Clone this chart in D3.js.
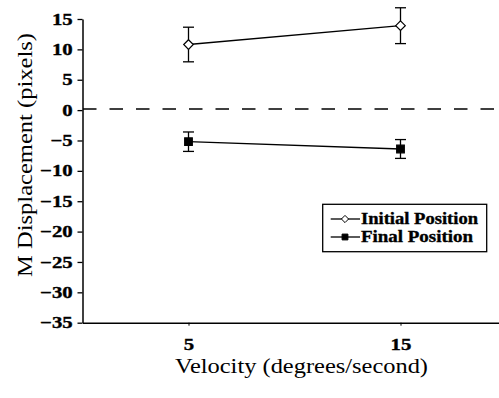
<!DOCTYPE html>
<html>
<head>
<meta charset="utf-8">
<script src="https://cdn.jsdelivr.net/npm/d3@7"></script>
<style>
  body { margin: 0; background: #fff; }
  svg { display: block; }
</style>
</head>
<body>
<div id="chart"></div>
<script>
// data
const velocities = [5, 15];
const initialMeans = [10.8, 13.9];
const initialErr = [2.85, 2.95];
const finalMeans = [-5.2, -6.4];
const finalErr = [1.6, 1.55];
const yTicks = [15, 10, 5, 0, -5, -10, -15, -20, -25, -30, -35];
const xTicks = [5, 15];

const width = 499, height = 398;
const serif = "Liberation Serif";

const svg = d3.select("#chart").append("svg")
    .attr("width", width)
    .attr("height", height);

// scales
const x = d3.scaleLinear().domain([0, 20]).range([82.5, 506.5]);
const y = d3.scaleLinear().domain([-35, 15]).range([322.7, 19]);

// open diamond like the original, a square turned on its corner
const diamond = {
    draw(ctx, size) {
        const r = Math.sqrt(size / 2);
        ctx.moveTo(0, -r);
        ctx.lineTo(r, 0);
        ctx.lineTo(0, r);
        ctx.lineTo(-r, 0);
        ctx.closePath();
    }
};

// bold serif labels, a touch heavier like the scanned print
function boldLabel(sel, size) {
    sel.style("font-family", serif)
        .style("font-size", size + "px")
        .style("font-weight", "bold")
        .attr("fill", "#000")
        .attr("stroke", "#000")
        .attr("stroke-width", 0.35);
}

// y axis
const yAxisG = svg.append("g")
    .attr("transform", "translate(82.5,0)")
    .call(d3.axisLeft(y).tickValues(yTicks).tickSize(5).tickPadding(2.5).tickSizeOuter(0));
yAxisG.select(".domain").attr("stroke", "#000").attr("stroke-width", 1.5);
yAxisG.selectAll(".tick line").attr("stroke-width", 1.3);
yAxisG.selectAll(".tick text")
    .call(boldLabel, 16)
    .attr("transform", "scale(1.3,1)");

// x axis
const xAxisG = svg.append("g")
    .attr("transform", "translate(0,322.7)")
    .call(d3.axisBottom(x).tickValues(xTicks).tickSize(3).tickPadding(12.5).tickSizeOuter(0));
xAxisG.select(".domain").attr("stroke", "#000").attr("stroke-width", 1.5);
xAxisG.selectAll(".tick line").attr("stroke-width", 1);
xAxisG.selectAll(".tick text")
    .call(boldLabel, 16)
    .attr("transform", "scale(1.3,1)");

// zero reference line
svg.append("line")
    .attr("x1", x(0) + 0.5).attr("x2", width)
    .attr("y1", y(0) - 1).attr("y2", y(0) - 1)
    .attr("stroke", "#000")
    .attr("stroke-width", 1.5)
    .attr("stroke-dasharray", "13.5,13");

// axis titles
svg.append("text")
    .attr("x", 301.5).attr("y", 373)
    .attr("text-anchor", "middle")
    .style("font-family", serif)
    .style("font-size", "20px")
    .attr("textLength", 253)
    .attr("lengthAdjust", "spacingAndGlyphs")
    .text("Velocity (degrees/second)");

svg.append("text")
    .attr("transform", "translate(32,155) rotate(-90)")
    .attr("text-anchor", "middle")
    .style("font-family", serif)
    .style("font-size", "20px")
    .attr("textLength", 244)
    .attr("lengthAdjust", "spacingAndGlyphs")
    .text("M Displacement (pixels)");

// series
const series = [
    {name: "Initial Position", means: initialMeans, err: initialErr, fill: "#fff", shape: diamond, size: 46, legendSize: 26},
    {name: "Final Position", means: finalMeans, err: finalErr, fill: "#000", shape: d3.symbolSquare, size: 58, legendSize: 34}
];

const line = d3.line()
    .x(d => x(d.v))
    .y(d => y(d.m));

series.forEach(s => {
    const pts = velocities.map((v, i) => ({v: v, m: s.means[i], e: s.err[i]}));
    const g = svg.append("g");

    // connecting line
    g.append("path")
        .datum(pts)
        .attr("d", line)
        .attr("fill", "none")
        .attr("stroke", "#000")
        .attr("stroke-width", 1.3);

    // error bars
    const eb = g.selectAll(".err").data(pts).enter().append("g");
    eb.append("line")
        .attr("x1", d => x(d.v)).attr("x2", d => x(d.v))
        .attr("y1", d => y(d.m + d.e)).attr("y2", d => y(d.m - d.e))
        .attr("stroke", "#000").attr("stroke-width", 1.3);
    eb.append("line")
        .attr("x1", d => x(d.v) - 5.5).attr("x2", d => x(d.v) + 5.5)
        .attr("y1", d => y(d.m + d.e)).attr("y2", d => y(d.m + d.e))
        .attr("stroke", "#000").attr("stroke-width", 1.3);
    eb.append("line")
        .attr("x1", d => x(d.v) - 5.5).attr("x2", d => x(d.v) + 5.5)
        .attr("y1", d => y(d.m - d.e)).attr("y2", d => y(d.m - d.e))
        .attr("stroke", "#000").attr("stroke-width", 1.3);

    // markers
    g.selectAll(".pt").data(pts).enter().append("path")
        .attr("transform", d => `translate(${x(d.v)},${y(d.m)})`)
        .attr("d", d3.symbol().type(s.shape).size(s.size))
        .attr("fill", s.fill)
        .attr("stroke", "#000")
        .attr("stroke-width", 1.2);
});

// legend
const legend = svg.append("g");
legend.append("rect")
    .attr("x", 322.7).attr("y", 204.3)
    .attr("width", 164).attr("height", 47.4)
    .attr("fill", "#fff")
    .attr("stroke", "#000")
    .attr("stroke-width", 1.3);

const legendTextLen = [117, 112];
const items = legend.selectAll(".item").data(series).enter().append("g")
    .attr("transform", (d, i) => `translate(0,${219 + i * 18})`);
items.append("line")
    .attr("x1", 330.7).attr("x2", 360)
    .attr("y1", 0).attr("y2", 0)
    .attr("stroke", "#000").attr("stroke-width", 1.3);
items.append("path")
    .attr("transform", "translate(345,0)")
    .attr("d", d => d3.symbol().type(d.shape).size(d.legendSize)())
    .attr("fill", d => d.fill)
    .attr("stroke", "#000")
    .attr("stroke-width", 1);
items.append("text")
    .attr("x", 361).attr("y", 5)
    .call(boldLabel, 16)
    .attr("textLength", (d, i) => legendTextLen[i])
    .attr("lengthAdjust", "spacingAndGlyphs")
    .text(d => d.name);
</script>
</body>
</html>
